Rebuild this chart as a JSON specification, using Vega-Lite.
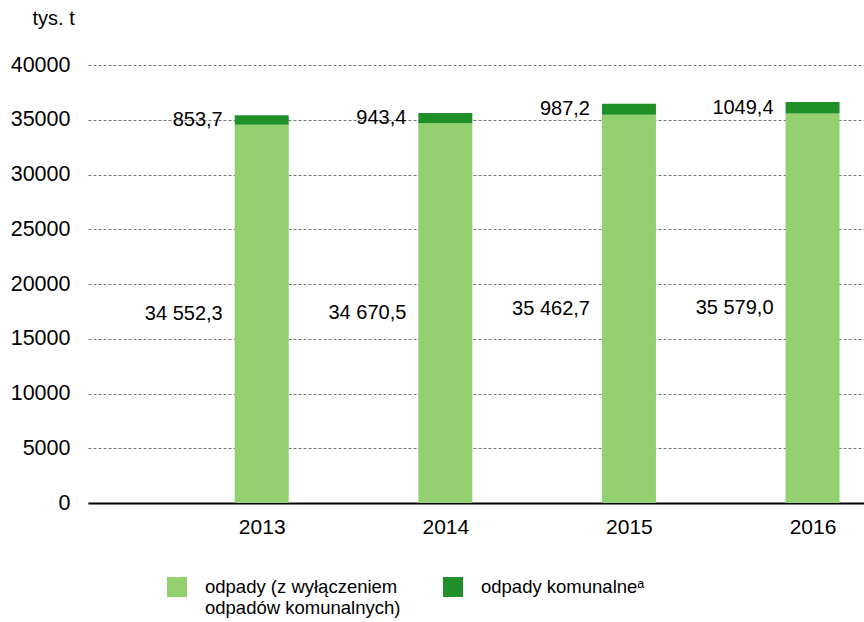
{
  "$schema": "https://vega.github.io/schema/vega-lite/v6.json",
  "width": 776,
  "height": 438,
  "autosize": {"type": "none"},
  "padding": {"left": 88, "top": 65, "right": 0, "bottom": 119},
  "config": {
    "font": "Liberation Sans",
    "view": {"stroke": null},
    "locale": {"number": {"decimal": ",", "thousands": " ", "grouping": [3], "currency": ["", " zł"]}}
  },
  "data": {
    "values": [
      {"rok": 2013, "typ": "odpady (z wyłączeniem odpadów komunalnych)", "wartosc": 34552.3},
      {"rok": 2013, "typ": "odpady komunalne", "wartosc": 853.7},
      {"rok": 2014, "typ": "odpady (z wyłączeniem odpadów komunalnych)", "wartosc": 34670.5},
      {"rok": 2014, "typ": "odpady komunalne", "wartosc": 943.4},
      {"rok": 2015, "typ": "odpady (z wyłączeniem odpadów komunalnych)", "wartosc": 35462.7},
      {"rok": 2015, "typ": "odpady komunalne", "wartosc": 987.2},
      {"rok": 2016, "typ": "odpady (z wyłączeniem odpadów komunalnych)", "wartosc": 35579.0},
      {"rok": 2016, "typ": "odpady komunalne", "wartosc": 1049.4}
    ]
  },
  "transform": [
    {"stack": "wartosc", "groupby": ["rok"], "sort": [{"field": "typ", "order": "ascending"}], "as": ["y0", "y1"]},
    {"calculate": "(datum.y0 + datum.y1) / 2", "as": "srodek"}
  ],
  "layer": [
    {
      "mark": {"type": "bar", "size": 54},
      "encoding": {
        "x": {
          "field": "rok", "type": "quantitative",
          "scale": {"domain": [2012.081, 2016.253], "nice": false, "zero": false},
          "axis": {
            "title": null, "values": [2013, 2014, 2015, 2016], "format": "d",
            "grid": false, "ticks": false, "labelFontSize": 21, "labelColor": "#000",
            "labelPadding": 13, "domainColor": "#000", "domainWidth": 2, "labelFlush": false
          }
        },
        "y": {
          "field": "y0", "type": "quantitative",
          "scale": {"domain": [0, 40000], "nice": false},
          "axis": {
            "title": "tys. t", "titleAngle": 0, "titleX": -56, "titleY": -47,
            "titleAlign": "left", "titleBaseline": "middle", "titleFontWeight": "normal",
            "titleFontSize": 20, "titleColor": "#000",
            "values": [0, 5000, 10000, 15000, 20000, 25000, 30000, 35000, 40000],
            "format": "d", "labelFontSize": 21.5, "labelColor": "#000", "labelPadding": 18,
            "ticks": false, "domain": false,
            "gridColor": "#777", "gridDash": [3, 2], "gridWidth": 1
          }
        },
        "y2": {"field": "y1"},
        "color": {
          "field": "typ", "type": "nominal",
          "scale": {
            "domain": ["odpady (z wyłączeniem odpadów komunalnych)", "odpady komunalne"],
            "range": ["#93d06f", "#1f8f28"]
          },
          "legend": {
            "title": null, "orient": "none", "legendX": 79, "legendY": 512,
            "direction": "horizontal", "columns": 2, "columnPadding": 42,
            "symbolType": "square", "symbolSize": 400, "symbolStrokeWidth": 0,
            "labelFontSize": 18.5, "labelColor": "#000", "labelOffset": 18, "labelLimit": 400,
            "labelBaseline": "middle", "labelLineHeight": 21,
            "labelExpr": "datum.label == 'odpady komunalne' ? ['odpady komunalneᵃ', ' '] : ['odpady (z wyłączeniem', 'odpadów komunalnych)']"
          }
        }
      }
    },
    {
      "transform": [{"filter": "datum.typ == 'odpady komunalne'"}],
      "mark": {"type": "text", "align": "right", "baseline": "middle", "dx": -39, "fontSize": 20, "color": "#000"},
      "encoding": {
        "x": {"field": "rok", "type": "quantitative"},
        "y": {"field": "srodek", "type": "quantitative"},
        "text": {"field": "wartosc", "type": "quantitative", "format": ".1f"}
      }
    },
    {
      "transform": [{"filter": "datum.typ != 'odpady komunalne'"}],
      "mark": {"type": "text", "align": "right", "baseline": "middle", "dx": -39, "fontSize": 20, "color": "#000"},
      "encoding": {
        "x": {"field": "rok", "type": "quantitative"},
        "y": {"field": "srodek", "type": "quantitative"},
        "text": {"field": "wartosc", "type": "quantitative", "format": ",.1f"}
      }
    }
  ]
}
